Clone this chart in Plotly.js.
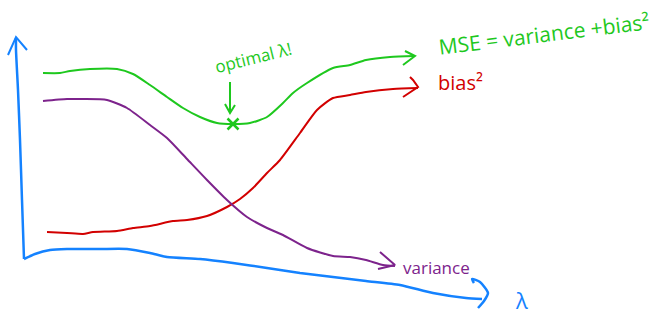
<!DOCTYPE html>
<html>
<head>
<meta charset="utf-8">
<script src="https://cdn.plot.ly/plotly-3.0.1.min.js"></script>
<style>html,body{margin:0;padding:0;background:#fff;}#chart{width:666px;height:315px;}</style>
</head>
<body>
<div id="chart"></div>
<script>
// Hand-drawn sketch: curves (x = lambda position, y = height, screen units)
const axisYx = [24, 22, 20, 18, 16, 16];
const axisYy = [259, 200, 140, 90, 50, 38];
const axisYheadX = [8, 16, 27];
const axisYheadY = [55, 37, 50];

const axisXx = [24, 35, 50, 67, 100, 127, 150, 167, 200, 233, 267, 300, 333, 366, 400, 433, 466, 482];
const axisXy = [259, 254, 250, 249, 249, 249, 253, 257, 259, 263, 268, 273, 277, 281, 285, 293, 298, 299];
const axisXheadX = [474, 472, 480, 488, 484, 478];
const axisXheadY = [283, 279, 282, 293, 301, 308];

const mseX = [43, 60, 70, 90, 117, 133, 150, 167, 183, 200, 217, 233, 250, 267, 283, 293, 307, 333, 350, 366, 390, 415];
const mseY = [73, 73, 71, 69, 69, 74, 85, 97, 108, 117, 123, 124, 123, 117, 103, 93, 83, 68, 65, 60, 57, 56];
const mseHeadX = [405, 415, 403];
const mseHeadY = [51, 56, 65];

const biasX = [47, 67, 83, 93, 117, 133, 150, 173, 187, 207, 227, 240, 253, 267, 280, 300, 317, 333, 350, 366, 393, 418];
const biasY = [232, 233, 234, 232, 231, 228, 226, 221, 220, 216, 207, 199, 188, 173, 160, 133, 110, 98, 95, 92, 89, 88];
const biasHeadX = [412, 410, 413, 418, 403];
const biasHeadY = [79, 77, 80, 87, 97];

const varX = [43, 67, 83, 107, 127, 150, 167, 187, 207, 227, 247, 267, 283, 307, 333, 350, 366, 383, 395];
const varY = [101, 99, 99, 100, 108, 125, 138, 159, 180, 200, 217, 228, 235, 248, 256, 257, 260, 265, 266];
const varHeadX = [380, 395, 378];
const varHeadY = [252, 265, 269];

const arrowX = [230, 230];
const arrowY = [82, 112];
const arrowHeadX = [225, 230, 235];
const arrowHeadY = [104, 113, 105];
const optX = [233];
const optY = [124];

const labels = {
  optimal: "optimal λ!",
  mse: "MSE = variance +bias²",
  bias: "bias²",
  variance: "variance",
  lambda: "λ"
};

const BLUE = "rgb(20,130,255)";
const GREEN = "rgb(30,200,30)";
const RED = "rgb(210,0,0)";
const PURPLE = "rgb(125,35,140)";

function line(x, y, color, w) {
  return {x: x, y: y, mode: "lines", type: "scatter", hoverinfo: "skip",
          line: {color: color, width: w || 2, shape: "spline", smoothing: 0.6}};
}
function poly(x, y, color) {
  return {x: x, y: y, mode: "lines", type: "scatter", hoverinfo: "skip",
          line: {color: color, width: 2}};
}

const traces = [
  line(axisYx, axisYy, BLUE, 2.5), poly(axisYheadX, axisYheadY, BLUE),
  line(axisXx, axisXy, BLUE, 2.5), line(axisXheadX, axisXheadY, BLUE, 2.5),
  line(mseX, mseY, GREEN), poly(mseHeadX, mseHeadY, GREEN),
  line(biasX, biasY, RED), poly(biasHeadX, biasHeadY, RED),
  line(varX, varY, PURPLE), poly(varHeadX, varHeadY, PURPLE),
  poly(arrowX, arrowY, GREEN), poly(arrowHeadX, arrowHeadY, GREEN),
  {x: optX, y: optY, mode: "markers", type: "scatter", hoverinfo: "skip",
   marker: {symbol: "x-thin", size: 11, line: {color: GREEN, width: 2.5}}}
];

const FONT = "Open Sans, DejaVu Sans, sans-serif";
const layout = {
  width: 666, height: 315,
  margin: {l: 0, r: 0, t: 0, b: 0},
  paper_bgcolor: "#fff", plot_bgcolor: "#fff",
  showlegend: false,
  xaxis: {range: [0, 666], visible: false, fixedrange: true},
  yaxis: {range: [315, 0], visible: false, fixedrange: true},
  annotations: [
    {x: 253, y: 57, text: labels.optimal, showarrow: false, textangle: -14,
     font: {family: FONT, size: 17, color: GREEN}},
    {x: 544, y: 34, text: labels.mse, showarrow: false, textangle: -7,
     font: {family: FONT, size: 21, color: GREEN}},
    {x: 460, y: 82, text: labels.bias, showarrow: false,
     font: {family: FONT, size: 20, color: RED}},
    {x: 436, y: 267, text: labels.variance, showarrow: false,
     font: {family: FONT, size: 17, color: PURPLE}},
    {x: 521, y: 300, text: labels.lambda, showarrow: false,
     font: {family: FONT, size: 22, color: BLUE}}
  ]
};

Plotly.newPlot("chart", traces, layout, {displayModeBar: false, staticPlot: true});
</script>
</body>
</html>
